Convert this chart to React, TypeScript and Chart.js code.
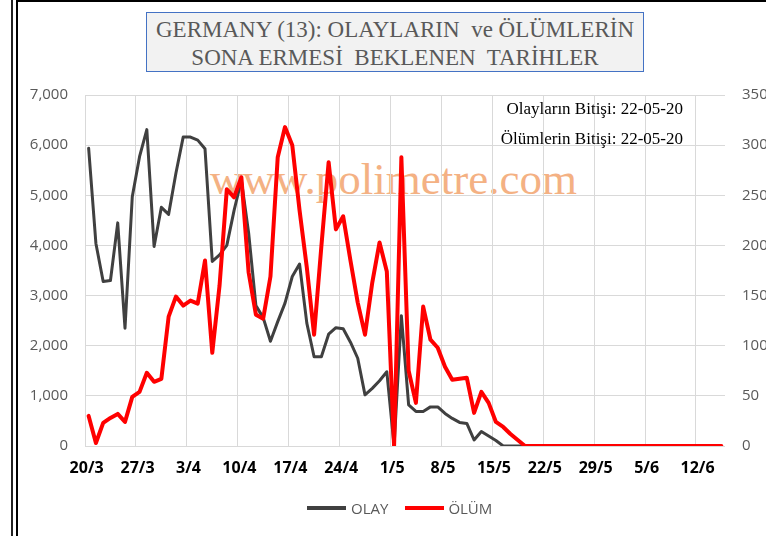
import React, { useEffect, useRef } from "react";
import { Chart, registerables } from "chart.js";

Chart.register(...registerables);

const dates = [
  "20/3", "21/3", "22/3", "23/3", "24/3", "25/3", "26/3", "27/3", "28/3", "29/3", "30/3", "31/3",
  "1/4", "2/4", "3/4", "4/4", "5/4", "6/4", "7/4", "8/4", "9/4", "10/4", "11/4", "12/4", "13/4", "14/4", "15/4",
  "16/4", "17/4", "18/4", "19/4", "20/4", "21/4", "22/4", "23/4", "24/4", "25/4", "26/4", "27/4", "28/4", "29/4", "30/4",
  "1/5", "2/5", "3/5", "4/5", "5/5", "6/5", "7/5", "8/5", "9/5", "10/5", "11/5", "12/5", "13/5", "14/5", "15/5",
  "16/5", "17/5", "18/5", "19/5", "20/5", "21/5", "22/5", "23/5", "24/5", "25/5", "26/5", "27/5", "28/5", "29/5", "30/5", "31/5",
  "1/6", "2/6", "3/6", "4/6", "5/6", "6/6", "7/6", "8/6", "9/6", "10/6", "11/6", "12/6", "13/6", "14/6", "15/6",
];

// OLAY (cases) – left axis
const olay = [
  5940, 4040, 3280, 3300, 4450, 2350, 4970, 5770, 6310, 3980, 4760, 4620, 5440, 6160,
  6160, 6100, 5930, 3680, 3810, 4000, 4700, 5300, 4250, 2800, 2560, 2090, 2480, 2850,
  3380, 3630, 2450, 1780, 1780, 2230, 2360, 2340, 2070, 1750, 1020, 1150, 1300, 1480,
  0, 2600, 820, 690, 690, 780, 780, 650, 550, 470, 450, 120, 290, 200, 110, 0,
  0, 0, 0, 0, 0, 0, 0, 0, 0, 0, 0, 0, 0, 0, 0, 0, 0, 0, 0, 0, 0, 0, 0, 0, 0, 0, 0, 0, 0, 0,
];

// ÖLÜM (deaths) – right axis
const olum = [
  30, 3, 23, 28, 32, 24, 49, 54, 73, 64, 67, 129, 149, 140,
  145, 142, 185, 93, 160, 256, 248, 268, 173, 131, 127, 169, 288, 318,
  300, 235, 178, 111, 199, 283, 216, 229, 185, 143, 111, 163, 203, 174,
  0, 288, 75, 43, 139, 106, 98, 79, 66, 67, 68, 33, 54, 43, 24, 19,
  12, 6, 0, 0, 0, 0, 0, 0, 0, 0, 0, 0, 0, 0, 0, 0, 0, 0, 0, 0, 0, 0, 0, 0, 0, 0, 0, 0, 0, 0,
];

const leftTicks = [0, 1000, 2000, 3000, 4000, 5000, 6000, 7000];
const rightTicks = [0, 50, 100, 150, 200, 250, 300, 350];

const titleLines = ["GERMANY (13): OLAYLARIN  ve ÖLÜMLERİN", "SONA ERMESİ  BEKLENEN  TARİHLER"];
const noteLines = ["Olayların Bitişi: 22-05-20", "Ölümlerin Bitişi: 22-05-20"];
const watermark = "www.polimetre.com";

const fmt = (v: number) => String(v).replace(/\B(?=(\d{3})+(?!\d))/g, ",");
const sansFont = "'Open Sans', 'Noto Sans', sans-serif";
const serifFont = "'Liberation Serif', 'DejaVu Serif', serif";

export default function App() {
  const ref = useRef<HTMLCanvasElement>(null);

  useEffect(() => {
    const chart = new Chart(ref.current as HTMLCanvasElement, {
      type: "line",
      data: {
        labels: dates,
        datasets: [
          {
            label: "ÖLÜM",
            data: olum,
            yAxisID: "y1",
            borderColor: "#ff0000",
            backgroundColor: "#ff0000",
            borderWidth: 4,
            pointRadius: 0,
            tension: 0,
            borderJoinStyle: "round",
            borderCapStyle: "round",
            order: 1,
          },
          {
            label: "OLAY",
            data: olay,
            yAxisID: "y",
            borderColor: "#404040",
            backgroundColor: "#404040",
            borderWidth: 3,
            pointRadius: 0,
            tension: 0,
            borderJoinStyle: "round",
            borderCapStyle: "round",
            order: 2,
          },
        ],
      },
      options: {
        responsive: false,
        animation: false,
        layout: { padding: { top: 95, bottom: 46, left: 0, right: 0 } },
        plugins: { legend: { display: false }, tooltip: { enabled: false } },
        scales: {
          x: {
            type: "category",
            offset: true,
            grid: {
              offset: true,
              drawTicks: false,
              lineWidth: 1,
              color: (c: any) => (c.index !== undefined && c.index % 7 === 0 ? "#d9d9d9" : "rgba(0,0,0,0)"),
            },
            border: { display: false },
            ticks: {
              autoSkip: false,
              maxRotation: 0,
              minRotation: 0,
              padding: 13,
              labelOffset: -2,
              color: "#000000",
              font: { family: sansFont, size: 16, weight: "bold" },
              callback: (_v: any, i: number) => (i % 7 === 0 ? dates[i] : ""),
            },
            afterFit: (s: any) => {
              s.height = 44;
            },
          },
          y: {
            position: "left",
            min: 0,
            max: 7000,
            afterBuildTicks: (s: any) => {
              s.ticks = leftTicks.map((v) => ({ value: v }));
            },
            ticks: {
              padding: 17,
              color: "#595959",
              font: { family: sansFont, size: 15 },
              callback: (v: any) => fmt(Number(v)),
            },
            grid: { color: "#d9d9d9", drawTicks: false, lineWidth: 1 },
            border: { display: false },
            afterFit: (s: any) => {
              s.width = 85;
            },
          },
          y1: {
            position: "right",
            min: 0,
            max: 350,
            afterBuildTicks: (s: any) => {
              s.ticks = rightTicks.map((v) => ({ value: v }));
            },
            ticks: {
              padding: 17,
              color: "#595959",
              font: { family: sansFont, size: 15 },
            },
            grid: { drawOnChartArea: false, drawTicks: false },
            border: { display: false },
            afterFit: (s: any) => {
              s.width = 41;
            },
          },
        },
      } as any,
    });
    return () => chart.destroy();
  }, []);

  return (
    <div
      style={{
        position: "absolute",
        left: 0,
        top: 0,
        width: 766,
        height: 536,
        background: "#ffffff",
        overflow: "hidden",
      }}
    >
      {/* frame artifacts */}
      <div style={{ position: "absolute", left: 11, top: 0, width: 2, height: 536, background: "#222" }} />
      <div style={{ position: "absolute", left: 16, top: 0, width: 2, height: 536, background: "#000" }} />
      <div style={{ position: "absolute", left: 16, top: 0, width: 750, height: 2, background: "#000" }} />

      {/* watermark behind the lines */}
      <div
        style={{
          position: "absolute",
          left: 210,
          top: 157,
          fontFamily: serifFont,
          fontSize: 45,
          lineHeight: "45px",
          color: "#F4B183",
          whiteSpace: "pre",
        }}
      >
        {watermark}
      </div>

      <canvas
        ref={ref}
        width={766}
        height={536}
        style={{ position: "absolute", left: 0, top: 0, width: 766, height: 536, display: "block" }}
      />

      {/* title box */}
      <div
        style={{
          position: "absolute",
          left: 146,
          top: 12,
          width: 498,
          height: 60,
          boxSizing: "border-box",
          border: "1px solid #4472C4",
          background: "#f2f2f2",
          paddingTop: 3,
          textAlign: "center",
          fontFamily: serifFont,
          fontSize: 23,
          lineHeight: "27.5px",
          color: "#595959",
        }}
      >
        {titleLines.map((t) => (
          <div key={t} style={{ whiteSpace: "pre" }}>
            {t}
          </div>
        ))}
      </div>

      {/* notes */}
      <div
        style={{
          position: "absolute",
          right: 83,
          top: 94,
          textAlign: "right",
          fontFamily: serifFont,
          fontSize: 17,
          lineHeight: "30px",
          color: "#000000",
        }}
      >
        {noteLines.map((t) => (
          <div key={t} style={{ whiteSpace: "pre" }}>
            {t}
          </div>
        ))}
      </div>

      {/* legend */}
      <div
        style={{
          position: "absolute",
          left: 307,
          top: 498,
          height: 20,
          display: "flex",
          alignItems: "center",
          fontFamily: sansFont,
          fontSize: 15,
          color: "#595959",
        }}
      >
        <div style={{ width: 39, height: 4, background: "#404040", marginRight: 5 }} />
        <span>OLAY</span>
        <div style={{ width: 39, height: 4, background: "#ff0000", marginLeft: 17, marginRight: 4 }} />
        <span>ÖLÜM</span>
      </div>
    </div>
  );
}
